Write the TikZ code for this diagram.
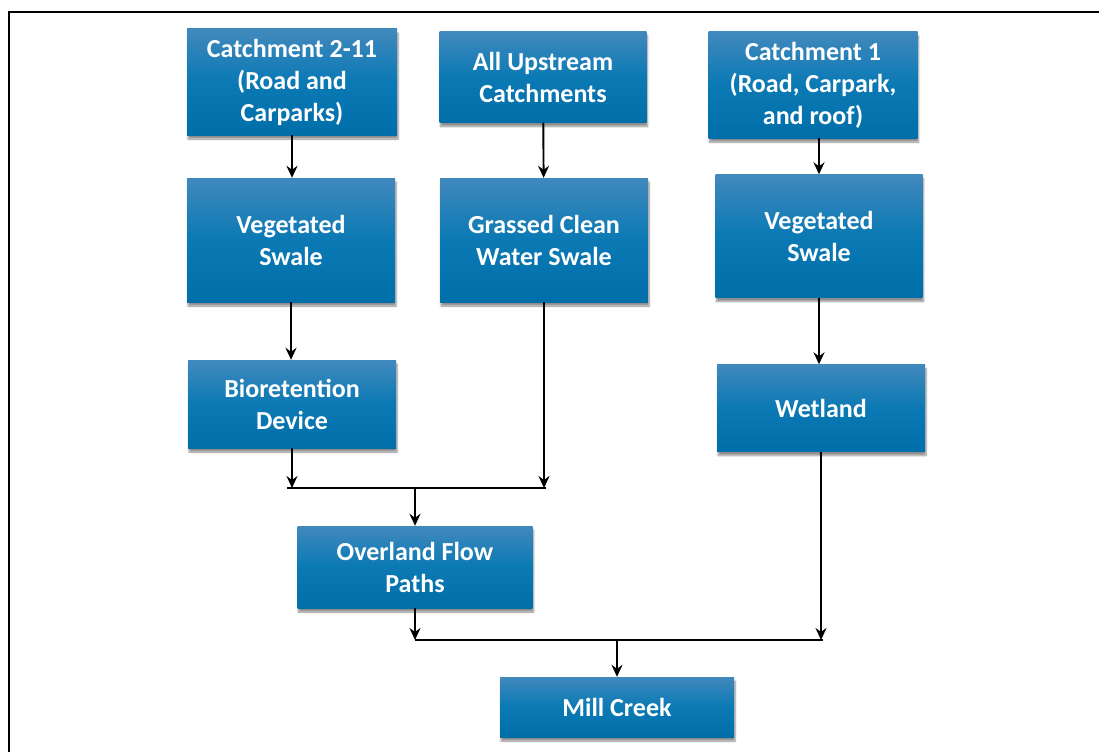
\documentclass[tikz,border=0pt]{standalone}
\usepackage{fontspec}
\setmainfont{Carlito}
\usetikzlibrary{arrows.meta,shadows.blur}
\definecolor{boxtop}{HTML}{4189BD}
\definecolor{boxmid}{HTML}{0A79B4}
\definecolor{boxbot}{HTML}{006EA9}
\tikzset{
  flowbox/.style={rectangle,top color=boxtop,bottom color=boxbot,middle color=boxmid,text=white,align=center,
    font=\fontsize{26}{32}\selectfont\bfseries,inner sep=0pt,
    blur shadow={shadow xshift=1pt,shadow yshift=-4pt,shadow blur steps=6,shadow opacity=45}},
  flow/.style={-{Stealth[length=12pt,width=11pt,inset=4pt]},line width=1.9pt},
  bus/.style={line width=2pt},
}
\begin{document}
\begin{tikzpicture}[x=1pt,y=-1pt]
  \useasboundingbox (0,0) rectangle (1099,752);
  \draw[line width=2.6pt] (9,752) -- (9,12) -- (1099,12);
  % boxes: name/x/y/width/height/text
  \foreach \nm/\x/\y/\w/\h/\txt in {
    c211/292/82/210/106/{Catchment 2-11\\(Road and\\Carparks)},
    allup/543/77/207/91/{All Upstream\\Catchments},
    cone/813/85/209/106/{Catchment 1\\(Road, Carpark,\\and roof)},
    vsa/291/240/208/124/{Vegetated\\Swale},
    gcs/544/240/208/124/{Grassed Clean\\Water Swale},
    vsb/819/236/207/123/{Vegetated\\Swale},
    bio/292/404/208/88/{Bioretention\\Device},
    wet/821/408/208/87/{Wetland},
    ofp/415/567/235/82/{Overland Flow\\Paths},
    mill/617/707/234/60/{Mill Creek}}{
    \node[flowbox,minimum width=\w pt,minimum height=\h pt] (\nm) at (\x,\y) {\txt};
  }
  \coordinate (j1) at (415,488);
  \coordinate (j2) at (617,640);
  \draw[flow] (c211.south) -- (c211.south |- vsa.north);
  \draw[flow] (allup) -- (gcs);
  \draw[flow] (vsb.north |- cone.south) -- (vsb.north);
  \draw[flow] (vsa.south) -- (vsa.south |- bio.north);
  \draw[flow] (vsb.south) -- (vsb.south |- wet.north);
  \draw[flow] (bio.south) -- (bio.south |- j1);
  \draw[flow] (gcs.south) -- (gcs.south |- j1);
  \draw[bus] ([xshift=-5pt]bio.south |- j1) -- ([xshift=2pt]gcs.south |- j1);
  \draw[flow] (j1) -- (ofp.north);
  \draw[flow] (ofp.south) -- (ofp.south |- j2);
  \draw[flow] (wet.south) -- (wet.south |- j2);
  \draw[bus] (ofp.south |- j2) -- ([xshift=2pt]wet.south |- j2);
  \draw[flow] (j2) -- (mill.north);
\end{tikzpicture}
\end{document}
